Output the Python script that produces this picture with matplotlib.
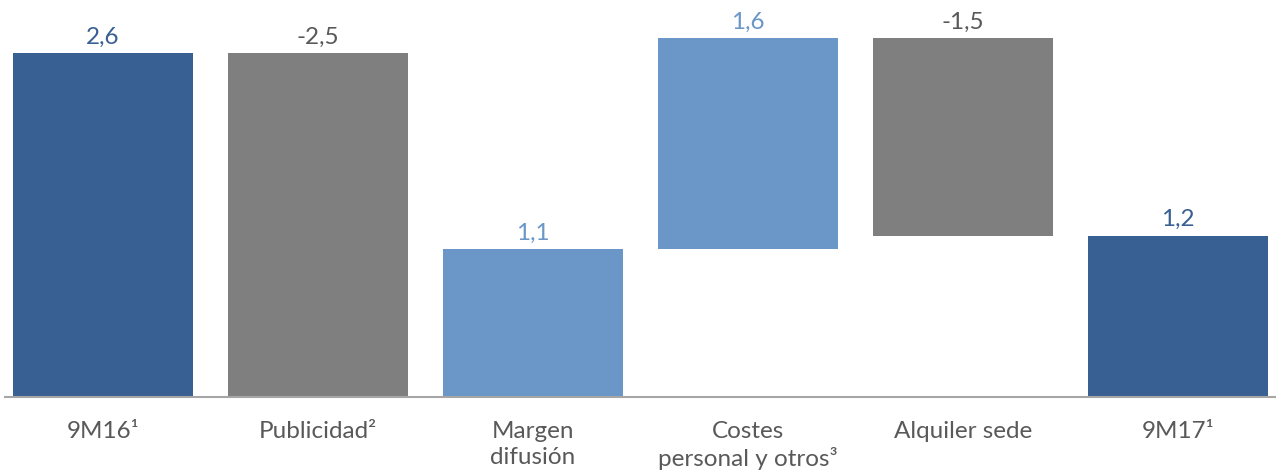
import numpy as np
import matplotlib
matplotlib.use("Agg")
import matplotlib.pyplot as plt

plt.rcParams['font.family'] = ['Lato', 'DejaVu Sans']

# Data (waterfall, millions)
categories = ["9M16¹", "Publicidad²", "Margen\ndifusión", "Costes\npersonal y otros³", "Alquiler sede", "9M17¹"]
start_value = 2.6
changes = [-2.59, 1.11, 1.59, -1.49]
end_value = 1.22
value_labels = ["2,6", "-2,5", "1,1", "1,6", "-1,5", "1,2"]

dark_blue = "#386092"
grey = "#7F7F7F"
light_blue = "#6A96C8"
text_grey = "#595959"
bar_colors = [dark_blue, grey, light_blue, light_blue, grey, dark_blue]
label_colors = [dark_blue, text_grey, light_blue, light_blue, text_grey, dark_blue]

# Build bottoms/heights of the floating bars
levels = np.concatenate([[start_value], start_value + np.cumsum(changes)])
bottoms = [0]
heights = [start_value]
for i, c in enumerate(changes):
    lo = min(levels[i], levels[i + 1])
    bottoms.append(lo)
    heights.append(abs(c))
bottoms.append(0)
heights.append(end_value)

fig = plt.figure(figsize=(12.76, 4.74), dpi=100)
ax = fig.add_axes([5 / 1276, 77 / 474, 1271 / 1276, 397 / 474])

x = np.arange(len(categories))
ax.bar(x, heights, bottom=bottoms, width=0.837, color=bar_colors)

for i in range(len(x)):
    top = bottoms[i] + heights[i]
    ax.text(x[i], top + 0.04, value_labels[i], ha="center", va="bottom",
            fontsize=17.5, color=label_colors[i])

ax.set_xlim(-0.456, 5.456)
ax.set_ylim(0, 3.0)
ax.set_xticks(x)
ax.set_xticklabels(categories, fontsize=17.5, color=text_grey, linespacing=1.3)
ax.tick_params(axis="x", length=0, pad=17)
ax.set_yticks([])
for s in ["top", "right", "left"]:
    ax.spines[s].set_visible(False)
ax.spines["bottom"].set_color("#A6A6A6")
ax.spines["bottom"].set_linewidth(1.5)

plt.savefig("out.png", dpi=100)
